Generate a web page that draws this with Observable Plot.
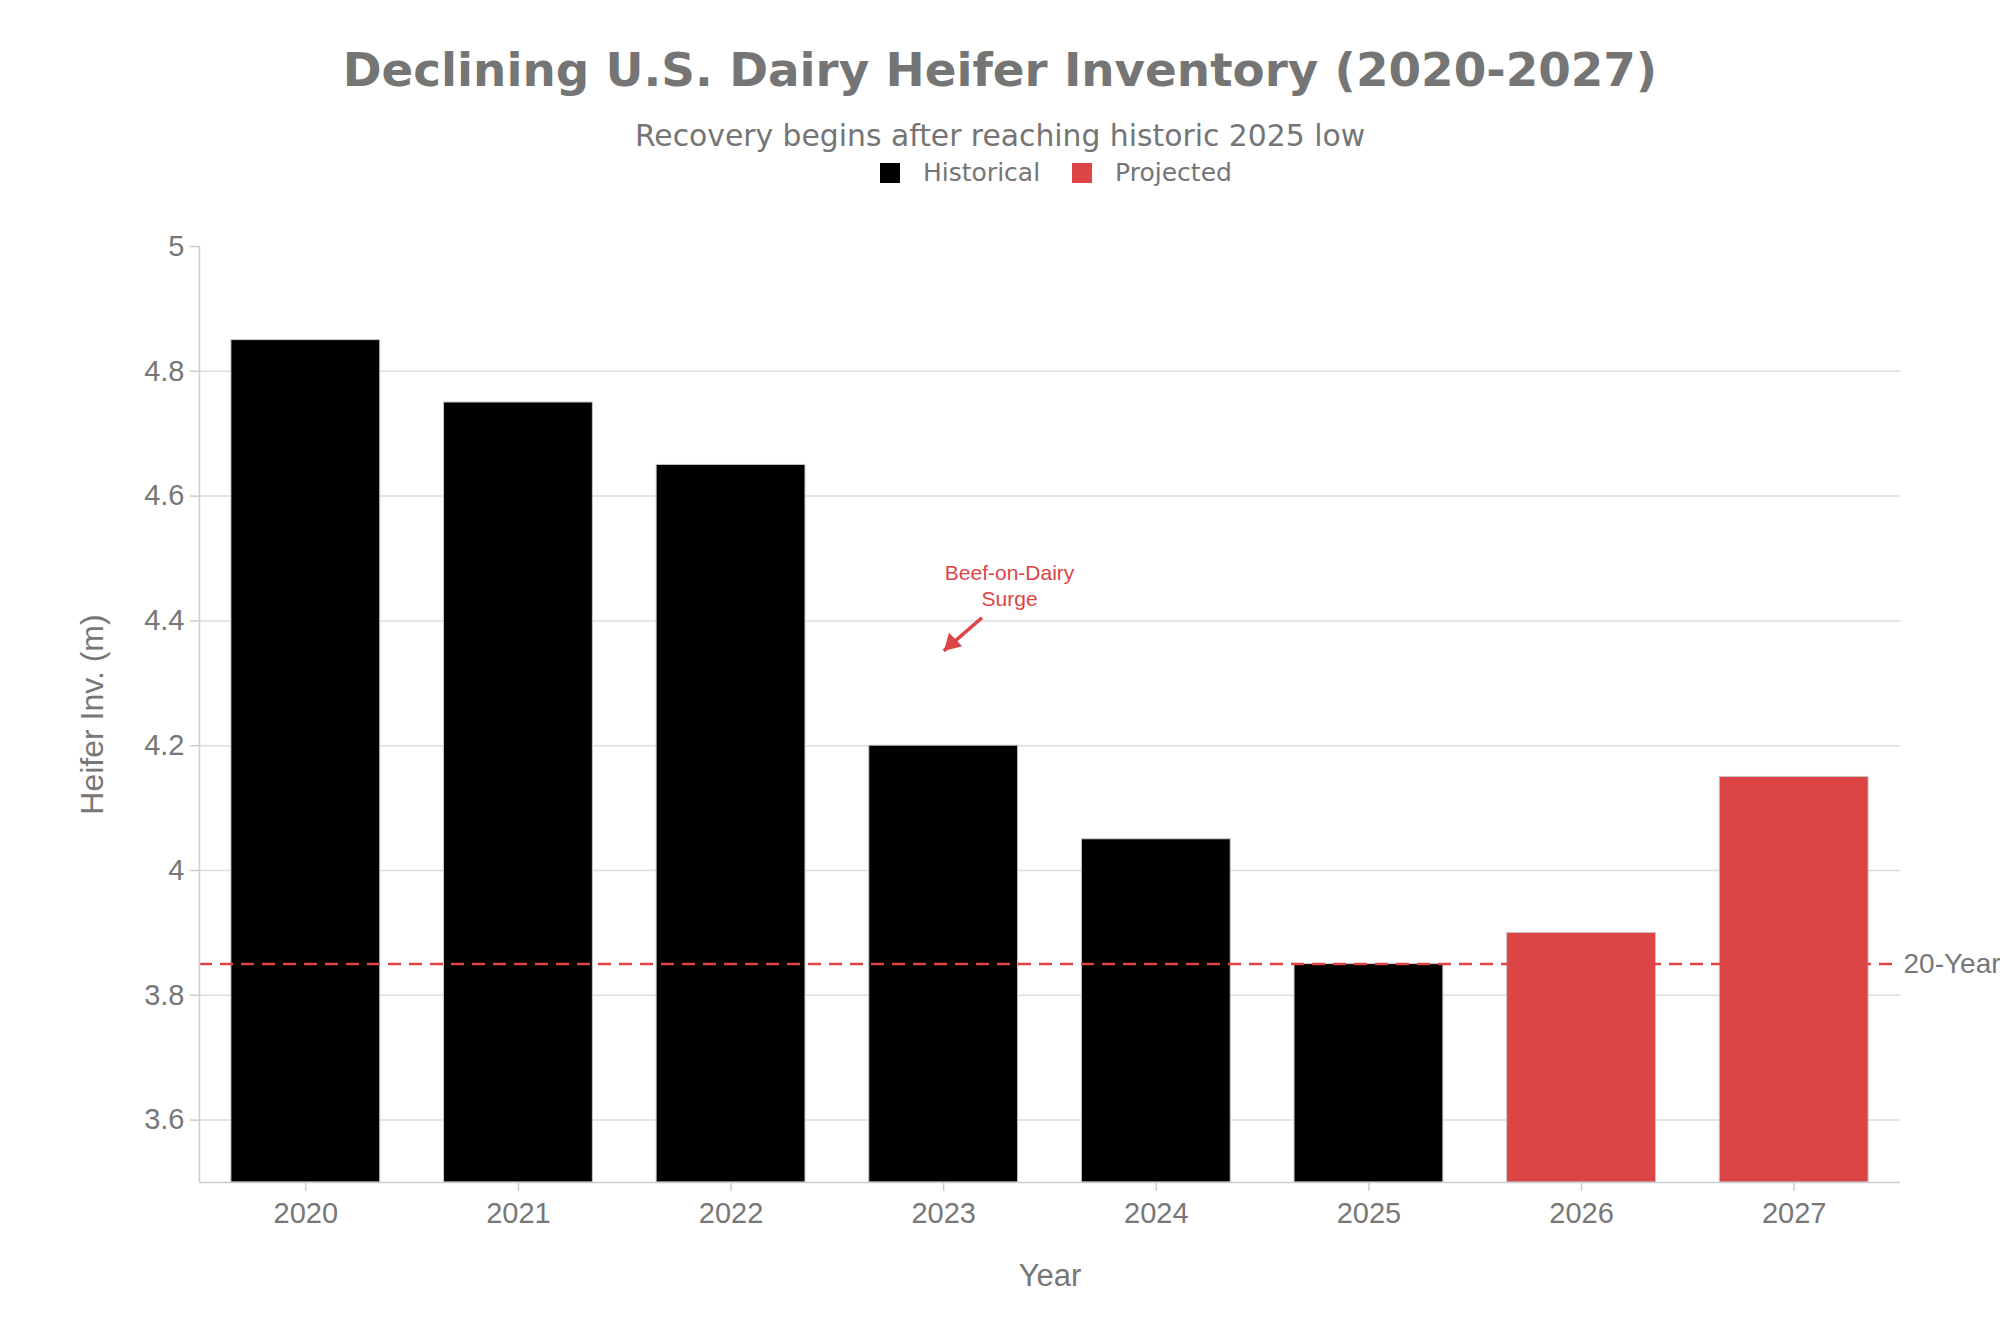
<!DOCTYPE html>
<html><head><meta charset="utf-8">
<script src="https://cdn.jsdelivr.net/npm/d3@7"></script>
<script src="https://cdn.jsdelivr.net/npm/@observablehq/plot@0.6"></script>
<style>
body{margin:0;background:#fff;}
#wrap{position:relative;width:2000px;height:1333px;overflow:hidden;background:#fff;}
.hdr{position:absolute;left:0;width:2000px;text-align:center;font-family:"DejaVu Sans",sans-serif;color:#757575;line-height:1;white-space:nowrap;}
#title{top:47px;font-size:46.8px;font-weight:bold;}
#subtitle{top:121px;font-size:29.8px;}
#legend{position:absolute;top:160px;left:880px;display:flex;align-items:center;font-family:"DejaVu Sans",sans-serif;color:#757575;font-size:25px;line-height:1;white-space:nowrap;}
#legend .sw{width:20px;height:20px;display:inline-block;margin-right:23px;}
#legend .it{display:flex;align-items:center;margin-right:32px;}
#chart{position:absolute;left:0;top:0;}
</style>
</head><body>
<div id="wrap">
  <div id="chart"></div>
  <div class="hdr" id="title"></div>
  <div class="hdr" id="subtitle"></div>
  <div id="legend"></div>
</div>
<script>
// ---- data ----
const years = [2020, 2021, 2022, 2023, 2024, 2025, 2026, 2027];
const values = [4.85, 4.75, 4.65, 4.2, 4.05, 3.85, 3.9, 4.15];
const types = ["Historical","Historical","Historical","Historical","Historical","Historical","Projected","Projected"];
const seriesNames = ["Historical", "Projected"];
const yTicks = [3.6, 3.8, 4, 4.2, 4.4, 4.6, 4.8, 5];
const avgValue = 3.85;
const avgLabel = "20-Year";
const annotationText = "Beef-on-Dairy\nSurge";
const annotationYear = 2023;
const annotationValue = 4.352;
const titleText = "Declining U.S. Dairy Heifer Inventory (2020-2027)";
const subtitleText = "Recovery begins after reaching historic 2025 low";
const xLabel = "Year";
const yLabel = "Heifer Inv. (m)";

// ---- styles ----
const RED = "#dc4446";
const colors = ["#000000", RED];
const GRAY = "#777777";
const yMin = 3.5, yMax = 5;

const data = years.map((year, i) => ({year, value: values[i], type: types[i]}));
const ann = [{tx: annotationYear + 0.31, ty: 4.458, x1: annotationYear + 0.18, y1: annotationValue + 0.053, x2: annotationYear, y2: annotationValue, label: annotationText}];

document.getElementById("title").textContent = titleText;
document.getElementById("subtitle").textContent = subtitleText;
const leg = document.getElementById("legend");
seriesNames.forEach((s, i) => {
  const it = document.createElement("span"); it.className = "it";
  const sw = document.createElement("span"); sw.className = "sw"; sw.style.background = colors[i];
  const t = document.createElement("span"); t.textContent = s;
  it.appendChild(sw); it.appendChild(t); leg.appendChild(it);
});

const chart = Plot.plot({
  width: 2000,
  height: 1333,
  marginTop: 246,
  marginBottom: 151,
  marginLeft: 199,
  marginRight: 100,
  style: {fontFamily: "'Liberation Sans', Arial, sans-serif", fontSize: "26px", background: "#fff"},
  x: {type: "linear", domain: [years[0] - 0.5, years[years.length - 1] + 0.5], axis: null},
  y: {domain: [yMin, yMax], axis: null},
  color: {domain: seriesNames, range: colors},
  marks: [
    Plot.gridY(yTicks.filter(d => d < yMax), {stroke: "#dddddd", strokeOpacity: 1, strokeWidth: 1.5}),
    Plot.rectY(data, {x1: d => d.year - 0.35, x2: d => d.year + 0.35, y1: yMin, y2: "value", fill: "type", stroke: "#c8c8c8", strokeWidth: 1}),
    Plot.ruleY([avgValue], {stroke: RED, strokeWidth: 2.5, strokeDasharray: "13,8"}),
    Plot.text([{v: avgValue, label: avgLabel}], {y: "v", text: "label", frameAnchor: "right", textAnchor: "start", dx: 3, fill: GRAY, fontSize: 28}),
    Plot.ruleX([years[0] - 0.5], {stroke: "#cccccc", strokeWidth: 1.5}),
    Plot.ruleY([yMin], {stroke: "#cccccc", strokeWidth: 1.5}),
    Plot.axisX(years, {tickFormat: d => String(d), tickSize: 9, tickPadding: 11, stroke: "#cccccc", strokeWidth: 1.5, fill: GRAY, fontSize: 29, label: null}),
    Plot.axisY(yTicks, {tickFormat: d => String(d), tickSize: 9, tickPadding: 6, stroke: "#cccccc", strokeWidth: 1.5, fill: GRAY, fontSize: 29, label: null}),
    Plot.text([xLabel], {frameAnchor: "bottom", dy: 94, lineAnchor: "middle", fill: GRAY, fontSize: 31}),
    Plot.text([yLabel], {frameAnchor: "left", dx: -107, rotate: -90, textAnchor: "middle", lineAnchor: "middle", fill: GRAY, fontSize: 32}),
    Plot.link(ann, {x1: "x1", y1: "y1", x2: "x2", y2: "y2", stroke: RED, strokeWidth: 3.5}),
    Plot.dot(ann, {x: "x2", y: "y2", symbol: "triangle", r: 7, fill: RED, stroke: "none", rotate: 226, dx: 8, dy: -7.5}),
    Plot.text(ann, {x: "tx", y: "ty", text: "label", fill: RED, fontSize: 21, lineHeight: 1.22})
  ]
});
document.getElementById("chart").appendChild(chart);
</script>
</body></html>
